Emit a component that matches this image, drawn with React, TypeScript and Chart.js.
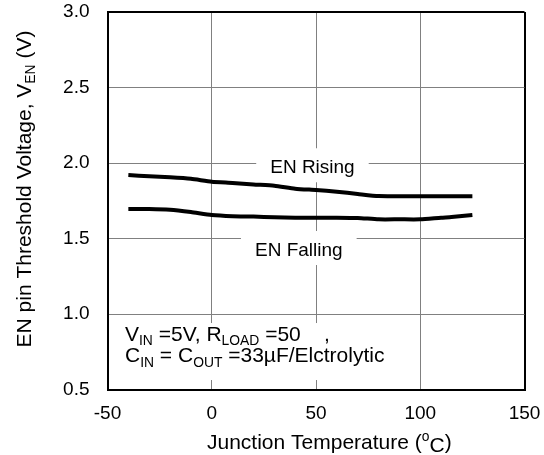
import React, { useEffect, useRef } from 'react';
import { Chart, registerables } from 'chart.js';

Chart.register(...registerables);

// ---- data ----
const temperatures = [-40, -30, -20, -10, 0, 10, 20, 30, 40, 50, 60, 70, 80, 90, 100, 110, 115, 125];
const enRising = [1.92, 1.912, 1.905, 1.895, 1.876, 1.868, 1.858, 1.85, 1.83, 1.821, 1.81, 1.795, 1.781, 1.78, 1.78, 1.78, 1.78, 1.78];
const enFalling = [1.695, 1.695, 1.69, 1.675, 1.656, 1.648, 1.645, 1.64, 1.638, 1.638, 1.638, 1.636, 1.627, 1.627, 1.627, 1.638, 1.642, 1.655];

const xMin = -50;
const xMax = 150;
const xStep = 50;
const yMin = 0.5;
const yMax = 3.0;
const yStep = 0.5;

const risingLabel = { text: 'EN Rising', t: 48.3, v: 1.932 };
const fallingLabel = { text: 'EN Falling', t: 41.75, v: 1.384 };
const noteAnchor = { t: -41.6, v: 0.821 };

const FONT = '"Liberation Sans", Arial, Helvetica, sans-serif';
const BLACK = '#000000';
const GRID = '#808080';

type Seg = { t: string; sub?: boolean; sup?: boolean; dy?: number };

function drawRich(ctx: CanvasRenderingContext2D, segs: Seg[], x: number, y: number, size: number, align: 'left' | 'center') {
  const widths = segs.map((s) => {
    ctx.font = `${s.sub || s.sup ? size * 0.66 : size}px ${FONT}`;
    return ctx.measureText(s.t).width;
  });
  const total = widths.reduce((a, b) => a + b, 0);
  let cx = align === 'center' ? x - total / 2 : x;
  ctx.textAlign = 'left';
  ctx.textBaseline = 'alphabetic';
  segs.forEach((s, i) => {
    ctx.font = `${s.sub || s.sup ? size * 0.66 : size}px ${FONT}`;
    const dy = s.sub ? size * 0.2 : s.sup ? -size * 0.38 : s.dy || 0;
    ctx.fillText(s.t, cx, y + dy);
    cx += widths[i];
  });
  return total;
}

const annotationPlugin = {
  id: 'annotations',
  beforeDatasetsDraw(chart: any) {
    const { ctx, scales } = chart;
    const xs = scales.x;
    const ys = scales.y;
    ctx.save();
    const size = 19;
    ctx.textBaseline = 'alphabetic';

    [risingLabel, fallingLabel].forEach((lab) => {
      const px = xs.getPixelForValue(lab.t);
      const py = ys.getPixelForValue(lab.v);
      ctx.font = `${size}px ${FONT}`;
      const w = ctx.measureText(lab.text).width;
      ctx.fillStyle = '#ffffff';
      ctx.fillRect(px - w / 2 - 14, py - 25, w + 28, 34);
      ctx.fillStyle = BLACK;
      ctx.textAlign = 'center';
      ctx.fillText(lab.text, px, py);
    });

    // condition note
    const noteSize = 21;
    const nx = xs.getPixelForValue(noteAnchor.t);
    const ny = ys.getPixelForValue(noteAnchor.v);
    ctx.fillStyle = '#ffffff';
    ctx.fillRect(nx - 7, ny - 18, 275, 57);
    ctx.fillStyle = BLACK;
    drawRich(ctx, [
      { t: 'V' }, { t: 'IN', sub: true }, { t: ' =5V, R' }, { t: 'LOAD', sub: true }, { t: ' =50    ,' },
    ], nx, ny, noteSize, 'left');
    drawRich(ctx, [
      { t: 'C' }, { t: 'IN', sub: true }, { t: ' = C' }, { t: 'OUT', sub: true }, { t: ' =33\u00B5F/Elctrolytic' },
    ], nx, ny + 21.3, noteSize, 'left');
    ctx.restore();
  },
  afterDraw(chart: any) {
    const { ctx } = chart;
    ctx.save();
    ctx.fillStyle = BLACK;
    const size = 21;
    // x-axis title
    drawRich(ctx, [
      { t: 'Junction Temperature (' }, { t: 'o', sup: true }, { t: 'C', dy: 2.5 }, { t: ')' },
    ], 207, 449, size, 'left');
    // y-axis title
    ctx.translate(31, 189);
    ctx.rotate(-Math.PI / 2);
    drawRich(ctx, [
      { t: 'EN pin Threshold Voltage, V' }, { t: 'EN', sub: true }, { t: ' (V)' },
    ], 0, 0, size, 'center');
    ctx.restore();
  },
};

function isEdge(value: number, lo: number, hi: number) {
  return Math.abs(value - lo) < 1e-9 || Math.abs(value - hi) < 1e-9;
}

function zeroPadding(s: any) {
  s.paddingTop = 0;
  s.paddingBottom = 0;
  s.paddingLeft = 0;
  s.paddingRight = 0;
}

export default function App() {
  const ref = useRef<HTMLCanvasElement | null>(null);

  useEffect(() => {
    if (!ref.current) return;
    const chart = new Chart(ref.current, {
      type: 'line',
      data: {
        datasets: [
          {
            label: 'EN Rising',
            data: temperatures.map((t, i) => ({ x: t, y: enRising[i] })),
            borderColor: BLACK,
            borderWidth: 4,
            pointRadius: 0,
            tension: 0.2,
            fill: false,
          },
          {
            label: 'EN Falling',
            data: temperatures.map((t, i) => ({ x: t, y: enFalling[i] })),
            borderColor: BLACK,
            borderWidth: 4,
            pointRadius: 0,
            tension: 0.2,
            fill: false,
          },
        ],
      },
      options: {
        responsive: false,
        animation: false,
        layout: { padding: { left: 0, top: 12, right: 19.5, bottom: 0 } },
        plugins: { legend: { display: false }, tooltip: { enabled: false }, title: { display: false } },
        scales: {
          x: {
            type: 'linear',
            min: xMin,
            max: xMax,
            afterFit: (s: any) => { s.height = 65.5; zeroPadding(s); },
            ticks: {
              stepSize: xStep,
              color: BLACK,
              padding: 13,
              font: { family: FONT, size: 19 },
              callback: (v: any) => String(v),
            },
            grid: {
              drawTicks: false,
              color: (c: any) => (isEdge(c.tick?.value, xMin, xMax) ? BLACK : GRID),
              lineWidth: (c: any) => (isEdge(c.tick?.value, xMin, xMax) ? 2 : 1),
            },
            border: { display: true, color: BLACK, width: 2 },
          },
          y: {
            type: 'linear',
            min: yMin,
            max: yMax,
            afterFit: (s: any) => { s.width = 107.5; zeroPadding(s); },
            ticks: {
              stepSize: yStep,
              color: BLACK,
              padding: 18,
              font: { family: FONT, size: 19 },
              callback: (v: any) => Number(v).toFixed(1),
            },
            grid: {
              drawTicks: false,
              color: (c: any) => (isEdge(c.tick?.value, yMin, yMax) ? BLACK : GRID),
              lineWidth: (c: any) => (isEdge(c.tick?.value, yMin, yMax) ? 2 : 1),
            },
            border: { display: true, color: BLACK, width: 2 },
          },
        },
      },
      plugins: [annotationPlugin],
    } as any);
    return () => chart.destroy();
  }, []);

  return (
    <div style={{ position: 'absolute', left: 0, top: 0, width: 544, height: 455, background: '#ffffff' }}>
      <canvas ref={ref} width={544} height={455} style={{ width: 544, height: 455, display: 'block' }} />
    </div>
  );
}
